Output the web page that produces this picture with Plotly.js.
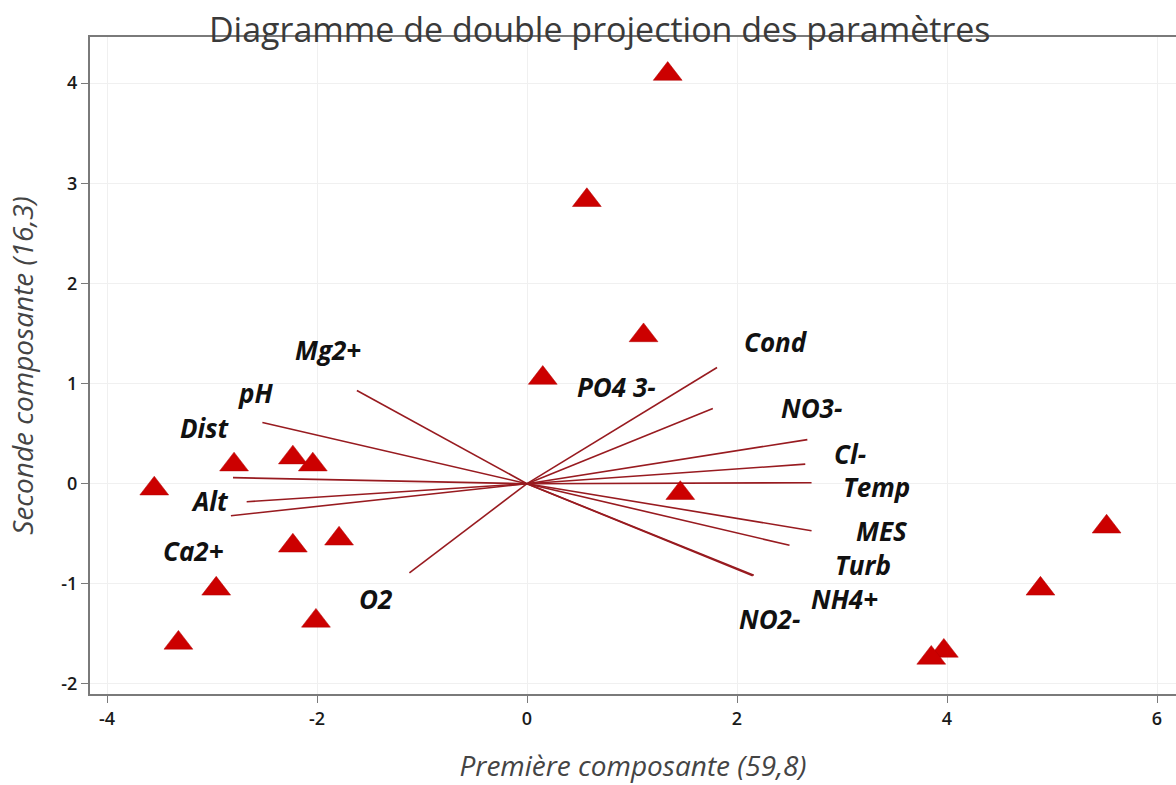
<!DOCTYPE html>
<html><head><meta charset="utf-8">
<script src="https://cdn.plot.ly/plotly-3.0.1.min.js"></script>
<style>html,body{margin:0;padding:0;background:#fff}#chart{width:1176px;height:785px}</style>
</head><body><div id="chart"></div>
<script>
// Observation scores (first and second component)
const obsX = [1.34, 0.57, 1.11, 0.15, 1.46, -2.79, -2.23, -2.04, -3.55, -2.23, -1.79, -2.96, -2.01, -3.32, 5.52, 4.89, 3.97, 3.85];
const obsY = [4.09, 2.83, 1.48, 1.055, -0.095, 0.19, 0.26, 0.19, -0.05, -0.62, -0.55, -1.05, -1.37, -1.59, -0.43, -1.05, -1.67, -1.74];

// Variable loadings (vector end points)
const varNames = ["Mg2+", "pH", "Dist", "Alt", "Ca2+", "O2", "Cond", "PO4 3-", "NO3-", "Cl-", "Temp", "MES", "Turb", "NH4+", "NO2-"];
const loadX = [-1.62, -2.52, -2.80, -2.67, -2.82, -1.12, 1.81, 1.77, 2.67, 2.65, 2.71, 2.71, 2.50, 2.16, 2.15];
const loadY = [0.93, 0.61, 0.06, -0.18, -0.32, -0.89, 1.16, 0.75, 0.44, 0.195, 0.01, -0.47, -0.615, -0.915, -0.92];
// Label anchor points (data units)
const labelX = [-1.90, -2.59, -3.07, -3.02, -3.18, -1.44, 2.37, 0.855, 2.71, 3.08, 3.33, 3.38, 3.20, 3.02, 2.31];
const labelY = [1.33, 0.91, 0.557, -0.17, -0.672, -1.155, 1.418, 0.968, 0.758, 0.295, -0.032, -0.475, -0.808, -1.148, -1.355];

const xTicks = [-4, -2, 0, 2, 4, 6];
const xTickText = ["-4", "-2", "0", "2", "4", "6"];
const yTicks = [-2, -1, 0, 1, 2, 3, 4];
const yTickText = ["-2", "-1", "0", "1", "2", "3", "4"];

const lx = [], ly = [];
for (let i = 0; i < loadX.length; i++) {
  lx.push(0, loadX[i], null);
  ly.push(0, loadY[i], null);
}

const traces = [
  {x: lx, y: ly, mode: 'lines', type: 'scatter', hoverinfo: 'skip',
   line: {color: '#981b20', width: 1.6}},
  {x: obsX, y: obsY, mode: 'markers', type: 'scatter',
   marker: {symbol: 'triangle-up', size: 25, color: '#cc0000', line: {color: '#b30000', width: 0.5}}}
];

const annotations = varNames.map((n, i) => ({
  x: labelX[i], y: labelY[i], text: n, showarrow: false,
  xanchor: 'center', yanchor: 'middle',
  font: {family: 'Open Sans, sans-serif', size: 26, color: '#111', weight: 'bold', style: 'italic'}
}));

const axisCommon = {
  showline: true, linecolor: '#7a7a7a', linewidth: 2,
  ticks: 'outside', ticklen: 7, tickwidth: 1, tickcolor: '#7a7a7a',
  showgrid: true, gridcolor: '#f0f0f0', gridwidth: 1, zeroline: false,
  tickfont: {family: 'Open Sans, sans-serif', size: 18, color: '#1a1a1a', weight: 600}
};

const layout = {
  width: 1176, height: 785,
  margin: {l: 90, r: 0, t: 37, b: 91},
  paper_bgcolor: '#fff', plot_bgcolor: '#fff',
  showlegend: false,
  title: {text: 'Diagramme de double projection des paramètres', x: 0.51, xanchor: 'center', y: 0.962, yanchor: 'middle',
    font: {family: 'Open Sans, sans-serif', size: 34, color: '#3a3a3a'}},
  xaxis: Object.assign({}, axisCommon, {
    range: [-4.162, 6.181], tickvals: xTicks, ticktext: xTickText, mirror: true,
    title: {text: 'Première composante (59,8)', standoff: 28,
      font: {family: 'Open Sans, sans-serif', size: 28, color: '#444', style: 'italic'}}
  }),
  yaxis: Object.assign({}, axisCommon, {
    range: [-2.10, 4.46], tickvals: yTicks, ticktext: yTickText,
    title: {text: 'Seconde composante (16,3)', standoff: 20,
      font: {family: 'Open Sans, sans-serif', size: 28, color: '#444', style: 'italic'}}
  }),
  annotations: annotations
};

Plotly.newPlot('chart', traces, layout, {displayModeBar: false, staticPlot: true});
</script>
</body></html>
